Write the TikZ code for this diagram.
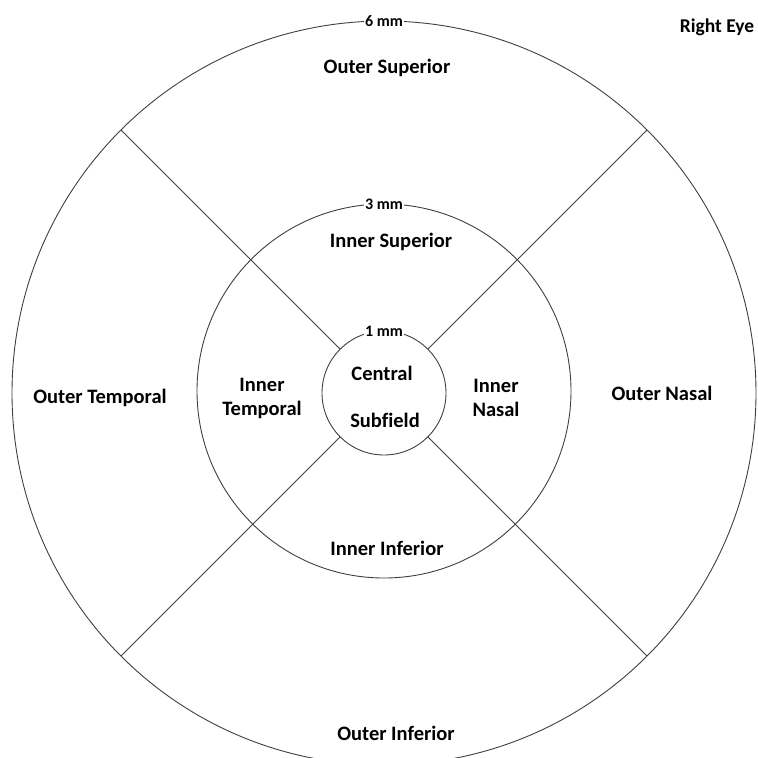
\documentclass[tikz,border=0pt]{standalone}
\usepackage{fontspec}
\setmainfont[Ligatures=NoCommon]{Carlito}
\begin{document}
\begin{tikzpicture}[x=1pt,y=-1pt,
  ring/.style={circle,draw=black!75,line width=0.9pt,inner sep=0pt,outer sep=0pt},
  spoke/.style={draw=black!75,line width=0.9pt},
  lbl/.style={font=\bfseries\fontsize{20.5}{24}\selectfont,align=center,text=black,inner sep=0pt},
  mmlbl/.style={font=\bfseries\fontsize{16}{18}\selectfont,fill=white,inner sep=1.5pt,text=black}]
\useasboundingbox (0,0) rectangle (758,758);
\clip (0,0) rectangle (758,758);
\fill[white] (0,0) rectangle (758,758);
\node[ring,minimum size=744pt] (outer) at (384,393) {};
\node[ring,minimum size=374pt] (inner) at (384,391) {};
\node[ring,minimum size=124pt] (cent) at (384,393) {};
\foreach \a in {45,135,225,315} \draw[spoke] (cent.\a) -- (outer.\a);
\node[mmlbl] (m6) at (outer.north) {6 mm};
\node[mmlbl] (m3) at (inner.north) {3 mm};
\node[mmlbl] (m1) at (cent.north) {1 mm};
\node[lbl,font=\bfseries\fontsize{19.5}{24}\selectfont] (eye) at (717,27) {Right Eye};
\node[lbl] (os) at (387,68) {Outer Superior};
\node[lbl] (is) at (391,242) {Inner Superior};
\node[lbl] (ce) at (382,373) {Central};
\node[lbl] (sf) at (385,420) {Subfield};
\node[lbl] (it) at (262,398) {Inner\\Temporal};
\node[lbl] (in) at (496,398) {Inner\\Nasal};
\node[lbl] (ot) at (100,398) {Outer Temporal};
\node[lbl] (on) at (662,393) {Outer Nasal};
\node[lbl] (ii) at (387,548) {Inner Inferior};
\node[lbl] (oi) at (396,733) {Outer Inferior};
\end{tikzpicture}
\end{document}
